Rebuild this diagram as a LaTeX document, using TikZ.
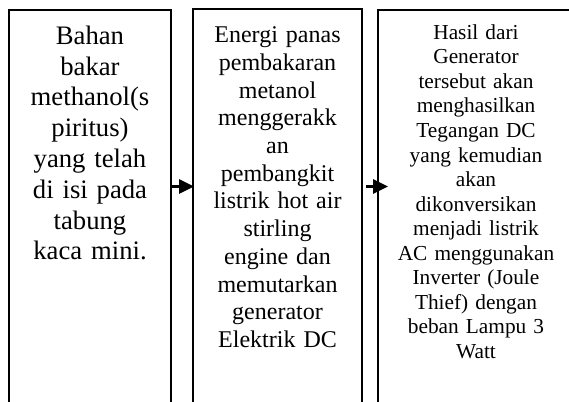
\documentclass[tikz,border=0pt]{standalone}
\usepackage{fontspec}
\setmainfont{Liberation Serif}
\usetikzlibrary{arrows.meta}

\tikzstyle{kotak} = [style={rectangle,draw,line width=1.8pt,anchor=north,inner sep=0,outer sep=0,minimum height=430pt}]
\tikzstyle{isi} = [style={align=center,anchor=base,inner sep=0}]
\tikzstyle{panah} = [style={line width=2.6pt,-{Triangle[length=15pt,width=14pt]}}]
\newcommand*{\atas}{10}
\newcommand*{\panahy}{186.5}

\begin{document}
\begin{tikzpicture}[x=1pt,y=-1pt]
\useasboundingbox (0,0) rectangle (569,401);
\clip (0,0) rectangle (569,401);

%% kotak
\node [kotak, minimum width=162pt] (box1) at (90,\atas) {};
\node [kotak, minimum width=169pt] (box2) at (277.5,\atas-1) {};
\node [kotak, minimum width=210pt] (box3) at (483,\atas) {};

%% teks
\node [isi, text width=160pt, font=\fontsize{26.67}{30.8}\selectfont] (bahan) at (90,44.3) {Bahan\\bakar\\methanol(s\\piritus)\\yang telah\\di isi pada\\tabung\\kaca mini.};
\node [isi, text width=165pt, font=\fontsize{24}{27.7}\selectfont] (energi) at (277.5,42.7) {Energi panas\\pembakaran\\metanol\\menggerakk\\an\\pembangkit\\listrik hot air\\stirling\\engine dan\\memutarkan\\generator\\Elektrik DC};
\node [isi, text width=190pt, font=\fontsize{21.33}{24.55}\selectfont] (hasil) at (476,39.3) {Hasil dari\\Generator\\tersebut akan\\menghasilkan\\Tegangan DC\\yang kemudian\\akan\\dikonversikan\\menjadi listrik\\AC menggunakan\\Inverter (Joule\\Thief) dengan\\beban Lampu 3\\Watt};

%% panah
\coordinate (lvl) at (0,\panahy);
\draw [panah, shorten <=1pt, shorten >=-1pt] (box1.east |- lvl) -- (box2.west |- lvl);
\draw [panah, shorten <=4pt, shorten >=-10pt] (box2.east |- lvl) -- (box3.west |- lvl);

\end{tikzpicture}
\end{document}
